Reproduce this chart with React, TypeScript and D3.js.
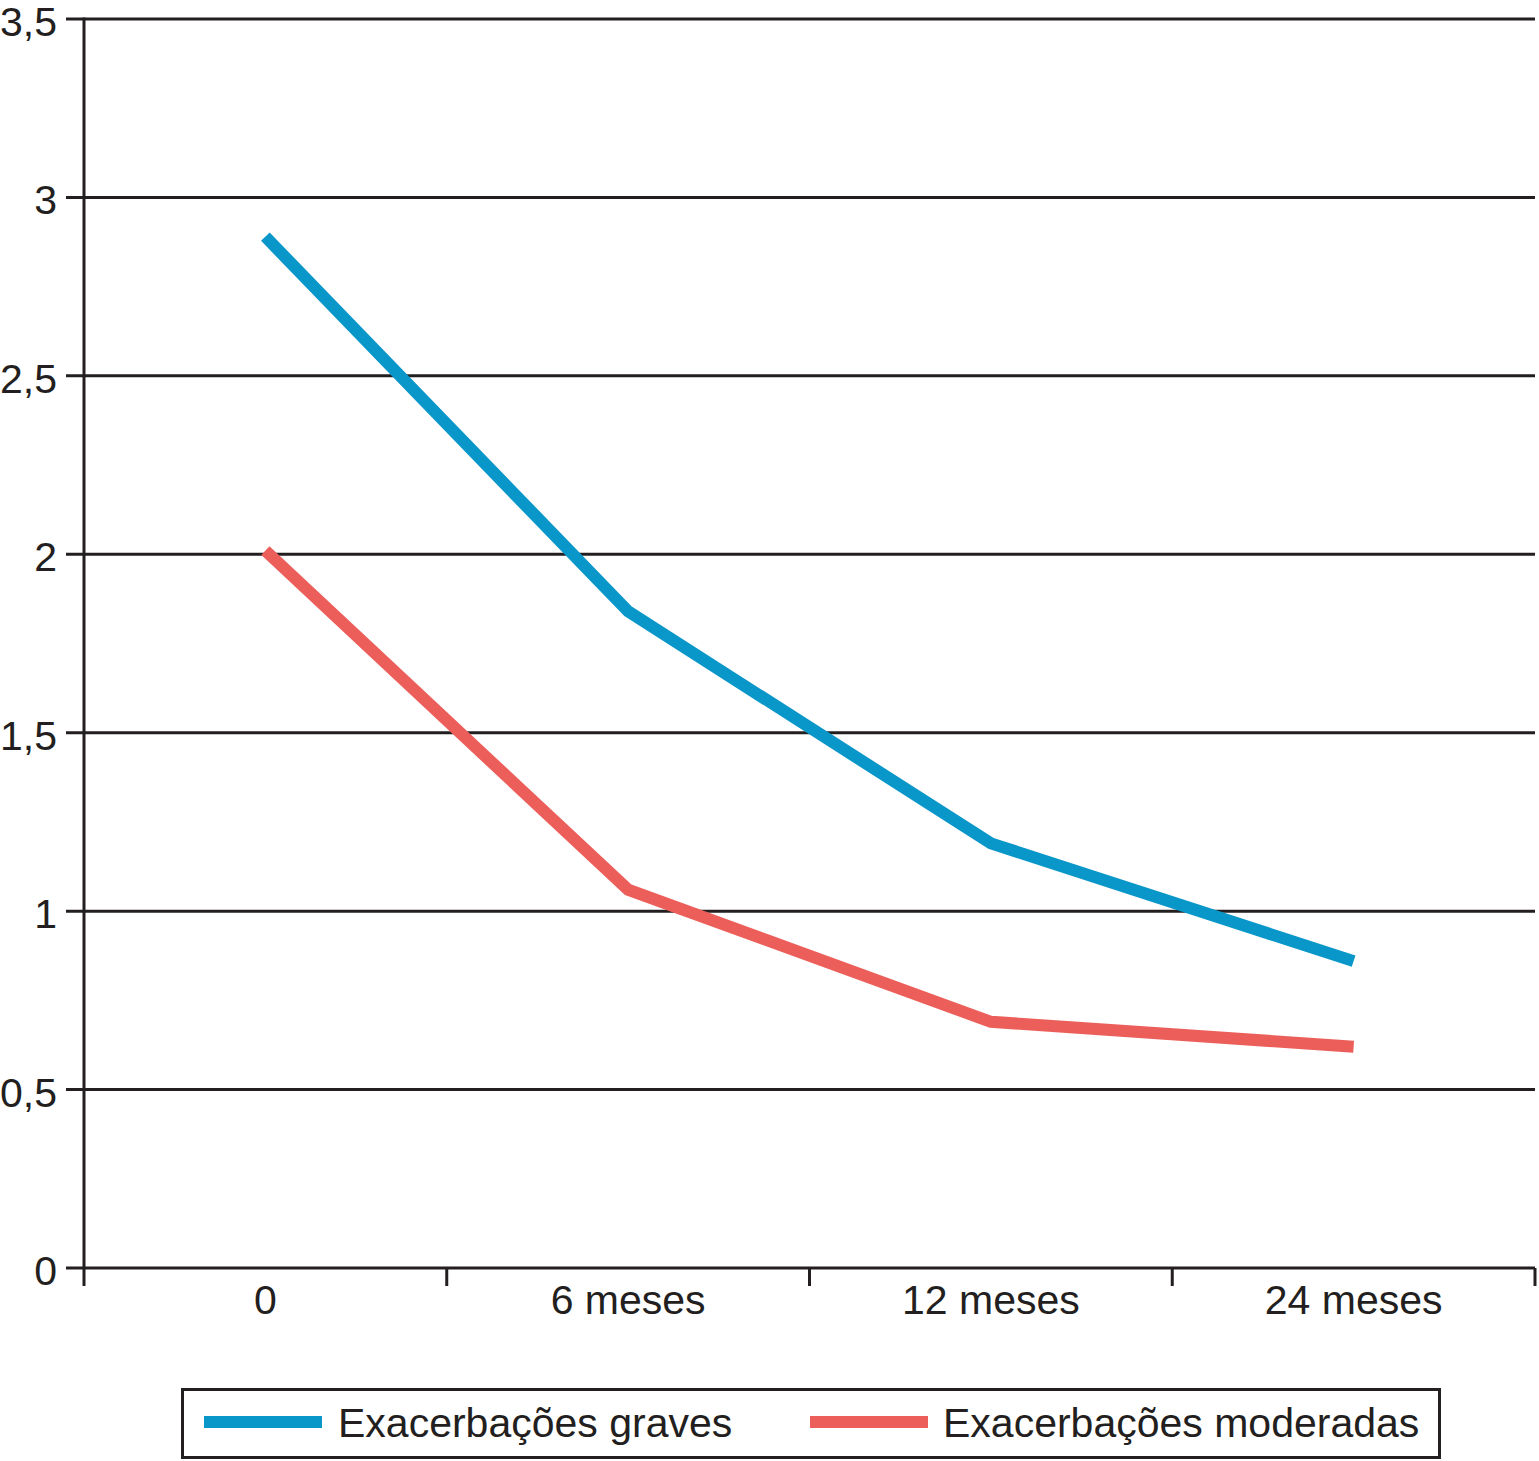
import React from "react";
import * as d3 from "d3";

const categories = ["0", "6 meses", "12 meses", "24 meses"];
const graves = [2.89, 1.84, 1.19, 0.86];
const moderadas = [2.01, 1.06, 0.69, 0.62];
const yTicks = [0, 0.5, 1, 1.5, 2, 2.5, 3, 3.5];
const seriesNames = ["Exacerbações graves", "Exacerbações moderadas"];

const W = 1539;
const H = 1461;
const left = 84;
const right = 1535;
const top = 19;
const bottom = 1268;
const ink = "#231f20";
const blue = "#0996c9";
const red = "#ec5e5a";
const font = "'Liberation Sans', Arial, Helvetica, sans-serif";

export default function App() {
  const x = d3.scaleBand<string>().domain(categories).range([left, right]).padding(0);
  const y = d3.scaleLinear().domain([0, 3.5]).range([bottom, top]);
  const cx = (c: string) => (x(c) as number) + x.bandwidth() / 2;
  const line = d3
    .line<number>()
    .x((_, i) => cx(categories[i]))
    .y((v) => y(v));
  const fmt = (v: number) => String(v).replace(".", ",");
  const edges = categories.map((c) => x(c) as number).concat([right]);

  return (
    <svg
      width={W}
      height={H}
      style={{ position: "absolute", left: 0, top: 0, background: "#fff" }}
      fontFamily={font}
    >
      <rect width={W} height={H} fill="#fff" />
      {yTicks.map((t) => (
        <g key={t}>
          <line x1={66} x2={right} y1={y(t)} y2={y(t)} stroke={ink} strokeWidth={3} />
          <text x={57} y={y(t) + 17} fontSize={41} textAnchor="end" fill={ink}>
            {fmt(t)}
          </text>
        </g>
      ))}
      <line x1={left} x2={left} y1={top - 1.5} y2={1286} stroke={ink} strokeWidth={3} />
      {edges.slice(1).map((e, i) => (
        <line key={i} x1={e} x2={e} y1={bottom} y2={1286} stroke={ink} strokeWidth={3} />
      ))}
      {categories.map((c) => (
        <text key={c} x={cx(c)} y={1314} fontSize={41} textAnchor="middle" fill={ink}>
          {c}
        </text>
      ))}
      <path d={line(graves) || ""} fill="none" stroke={blue} strokeWidth={12} strokeLinejoin="miter" />
      <path d={line(moderadas) || ""} fill="none" stroke={red} strokeWidth={12} strokeLinejoin="miter" />
      <rect x={182.5} y={1389.5} width={1257} height={68} fill="#fff" stroke={ink} strokeWidth={3} />
      <line x1={204} x2={322} y1={1422} y2={1422} stroke={blue} strokeWidth={12} />
      <text x={338} y={1437} fontSize={41} fill={ink}>
        {seriesNames[0]}
      </text>
      <line x1={810} x2={928} y1={1422} y2={1422} stroke={red} strokeWidth={12} />
      <text x={943} y={1437} fontSize={41} fill={ink}>
        {seriesNames[1]}
      </text>
    </svg>
  );
}
